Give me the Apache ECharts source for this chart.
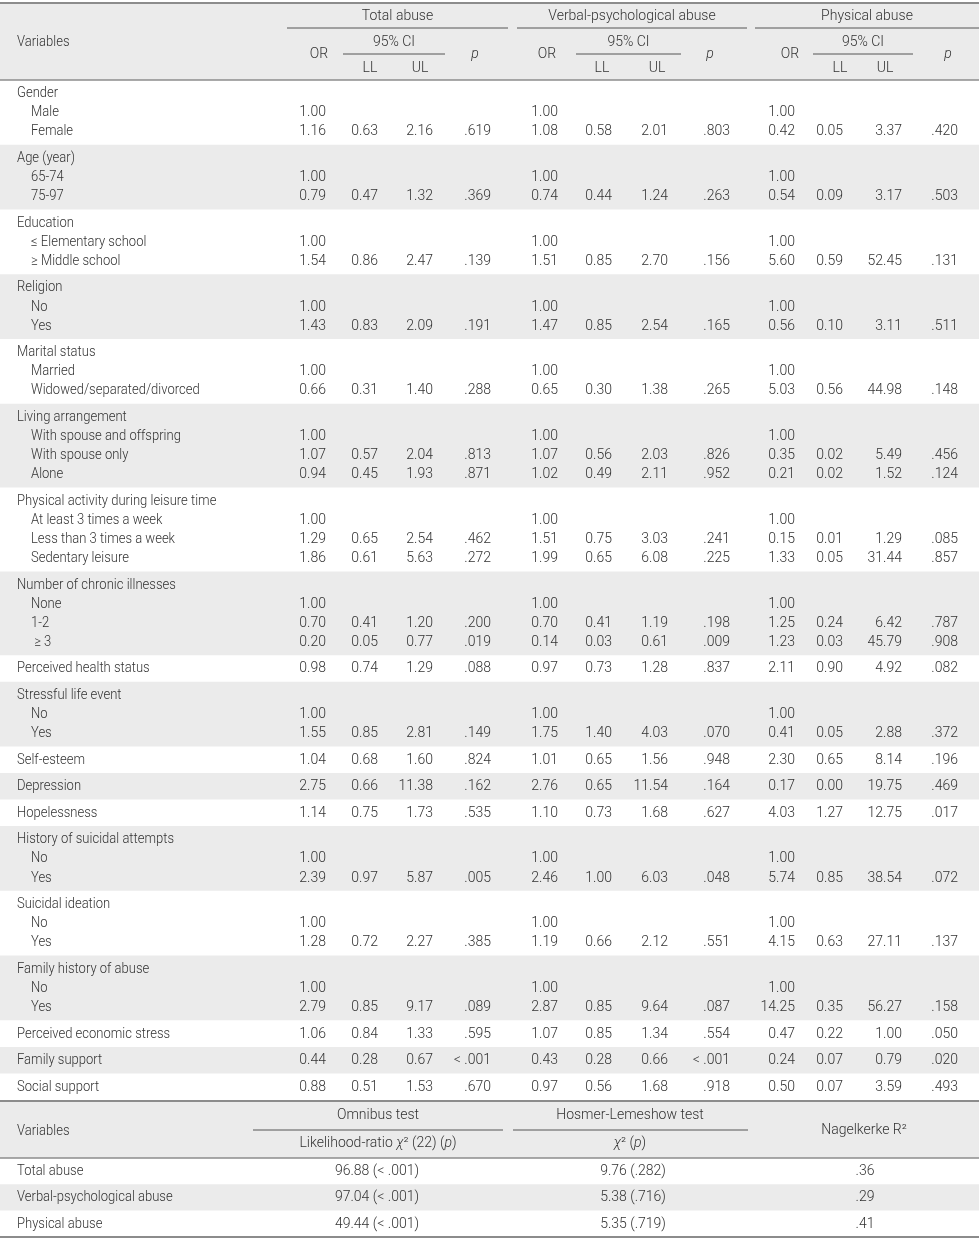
<!DOCTYPE html>
<html>
<head>
<meta charset="utf-8">
<script src="https://cdn.jsdelivr.net/npm/echarts@6/dist/echarts.min.js"></script>
<style>
html, body { margin: 0; padding: 0; background: #fff; }
#chart { width: 979px; height: 1239px; }
</style>
</head>
<body>
<div id="chart"></div>
<script>
// Row labels
var groupTitles = ['Gender', 'Age (year)', 'Education', 'Religion', 'Marital status', 'Living arrangement',
    'Physical activity during leisure time', 'Number of chronic illnesses', 'Perceived health status',
    'Stressful life event', 'Self-esteem', 'Depression', 'Hopelessness', 'History of suicidal attempts',
    'Suicidal ideation', 'Family history of abuse', 'Perceived economic stress', 'Family support', 'Social support'];
var groupItems = [['Male', 'Female'], ['65-74', '75-97'], ['\u2264 Elementary school', '\u2265 Middle school'],
    ['No', 'Yes'], ['Married', 'Widowed/separated/divorced'],
    ['With spouse and offspring', 'With spouse only', 'Alone'],
    ['At least 3 times a week', 'Less than 3 times a week', 'Sedentary leisure'],
    ['None', '1-2', ' \u2265 3'], [], ['No', 'Yes'], [], [], [], ['No', 'Yes'], ['No', 'Yes'], ['No', 'Yes'], [], [], []];

// Total abuse
var totalOR = [1.00, 1.16, 1.00, 0.79, 1.00, 1.54, 1.00, 1.43, 1.00, 0.66, 1.00, 1.07, 0.94, 1.00, 1.29, 1.86, 1.00, 0.70, 0.20, 0.98, 1.00, 1.55, 1.04, 2.75, 1.14, 1.00, 2.39, 1.00, 1.28, 1.00, 2.79, 1.06, 0.44, 0.88];
var totalLL = [null, 0.63, null, 0.47, null, 0.86, null, 0.83, null, 0.31, null, 0.57, 0.45, null, 0.65, 0.61, null, 0.41, 0.05, 0.74, null, 0.85, 0.68, 0.66, 0.75, null, 0.97, null, 0.72, null, 0.85, 0.84, 0.28, 0.51];
var totalUL = [null, 2.16, null, 1.32, null, 2.47, null, 2.09, null, 1.40, null, 2.04, 1.93, null, 2.54, 5.63, null, 1.20, 0.77, 1.29, null, 2.81, 1.60, 11.38, 1.73, null, 5.87, null, 2.27, null, 9.17, 1.33, 0.67, 1.53];
var totalP = [null, '.619', null, '.369', null, '.139', null, '.191', null, '.288', null, '.813', '.871', null, '.462', '.272', null, '.200', '.019', '.088', null, '.149', '.824', '.162', '.535', null, '.005', null, '.385', null, '.089', '.595', '< .001', '.670'];

// Verbal-psychological abuse
var verbalOR = [1.00, 1.08, 1.00, 0.74, 1.00, 1.51, 1.00, 1.47, 1.00, 0.65, 1.00, 1.07, 1.02, 1.00, 1.51, 1.99, 1.00, 0.70, 0.14, 0.97, 1.00, 1.75, 1.01, 2.76, 1.10, 1.00, 2.46, 1.00, 1.19, 1.00, 2.87, 1.07, 0.43, 0.97];
var verbalLL = [null, 0.58, null, 0.44, null, 0.85, null, 0.85, null, 0.30, null, 0.56, 0.49, null, 0.75, 0.65, null, 0.41, 0.03, 0.73, null, 1.40, 0.65, 0.65, 0.73, null, 1.00, null, 0.66, null, 0.85, 0.85, 0.28, 0.56];
var verbalUL = [null, 2.01, null, 1.24, null, 2.70, null, 2.54, null, 1.38, null, 2.03, 2.11, null, 3.03, 6.08, null, 1.19, 0.61, 1.28, null, 4.03, 1.56, 11.54, 1.68, null, 6.03, null, 2.12, null, 9.64, 1.34, 0.66, 1.68];
var verbalP = [null, '.803', null, '.263', null, '.156', null, '.165', null, '.265', null, '.826', '.952', null, '.241', '.225', null, '.198', '.009', '.837', null, '.070', '.948', '.164', '.627', null, '.048', null, '.551', null, '.087', '.554', '< .001', '.918'];

// Physical abuse
var physicalOR = [1.00, 0.42, 1.00, 0.54, 1.00, 5.60, 1.00, 0.56, 1.00, 5.03, 1.00, 0.35, 0.21, 1.00, 0.15, 1.33, 1.00, 1.25, 1.23, 2.11, 1.00, 0.41, 2.30, 0.17, 4.03, 1.00, 5.74, 1.00, 4.15, 1.00, 14.25, 0.47, 0.24, 0.50];
var physicalLL = [null, 0.05, null, 0.09, null, 0.59, null, 0.10, null, 0.56, null, 0.02, 0.02, null, 0.01, 0.05, null, 0.24, 0.03, 0.90, null, 0.05, 0.65, 0.00, 1.27, null, 0.85, null, 0.63, null, 0.35, 0.22, 0.07, 0.07];
var physicalUL = [null, 3.37, null, 3.17, null, 52.45, null, 3.11, null, 44.98, null, 5.49, 1.52, null, 1.29, 31.44, null, 6.42, 45.79, 4.92, null, 2.88, 8.14, 19.75, 12.75, null, 38.54, null, 27.11, null, 56.27, 1.00, 0.79, 3.59];
var physicalP = [null, '.420', null, '.503', null, '.131', null, '.511', null, '.148', null, '.456', '.124', null, '.085', '.857', null, '.787', '.908', '.082', null, '.372', '.196', '.469', '.017', null, '.072', null, '.137', null, '.158', '.050', '.020', '.493'];

// Model fit
var fitModels = ['Total abuse', 'Verbal-psychological abuse', 'Physical abuse'];
var omnibusChi = [96.88, 97.04, 49.44];
var omnibusP = ['< .001', '< .001', '< .001'];
var hlChi = [9.76, 5.38, 5.35];
var hlP = ['.282', '.716', '.719'];
var nagelkerke = ['.36', '.29', '.41'];

// Layout and style
var W = 979, H = 1239;
var FONT = 'Roboto, "Liberation Sans", Arial, sans-serif';
var WEIGHT = 300;
var INK = '#333';
var SHADE = '#ebebeb';
var RULE = '#8c8c8c';
var DARK_RULE = '#555';
var LINE = 19.1, PAD = 7.44, BODY_TOP = 80;
var LABEL = { size: 14, squeeze: 0.93 };   // row labels are set in a narrower face

var valueCols = [
    { values: totalOR, right: 326 }, { values: totalLL, right: 378 }, { values: totalUL, right: 433 }, { values: totalP, right: 491 },
    { values: verbalOR, right: 558 }, { values: verbalLL, right: 612 }, { values: verbalUL, right: 668 }, { values: verbalP, right: 730 },
    { values: physicalOR, right: 795 }, { values: physicalLL, right: 843 }, { values: physicalUL, right: 902 }, { values: physicalP, right: 958 }
];

var texts = [];
var bands = [];
var rules = [];

function addText(x, y, text, align, opts) {
    texts.push(Object.assign({ x: x, y: y, text: text, align: align || 'center', size: 14, squeeze: 1 }, opts || {}));
}

function fmt(v) {
    return typeof v === 'number' ? v.toFixed(2) : v;
}

// header of main table
bands.push([3, 80]);
rules.push([0, W, 3, 2, RULE]);
rules.push([0, W, 80, 1.5, RULE]);
addText(17, 42, 'Variables', 'left', LABEL);
[
    { title: 'Total abuse', x0: 287, x1: 508, ci0: 343, ci1: 445, or: 319, ll: 370, ul: 420, p: 475 },
    { title: 'Verbal-psychological abuse', x0: 517, x1: 747, ci0: 576, ci1: 681, or: 547, ll: 602, ul: 657, p: 710 },
    { title: 'Physical abuse', x0: 755, x1: W, ci0: 813, ci1: 913, or: 790, ll: 840, ul: 885, p: 948 }
].forEach(function (h) {
    addText((h.x0 + h.x1) / 2, 16, h.title);
    rules.push([h.x0, h.x1, 28, 1, DARK_RULE]);
    addText((h.ci0 + h.ci1) / 2, 42, '95% CI');
    rules.push([h.ci0, h.ci1, 54, 1, DARK_RULE]);
    addText(h.or, 54, 'OR');
    addText(h.p, 54, 'p', 'center', { italic: true });
    addText(h.ll, 68, 'LL');
    addText(h.ul, 68, 'UL');
});

// body of main table
var cur = BODY_TOP, row = 0;
groupTitles.forEach(function (title, g) {
    var items = groupItems[g];
    var n = items.length ? items.length + 1 : 1;
    var h = LINE * n + PAD;
    var top = cur;
    if (g % 2 === 1) bands.push([top, top + h]);
    function lineY(i) { return top + PAD / 2 + LINE / 2 + LINE * i + 0.5; }
    addText(17, lineY(0), title, 'left', LABEL);
    items.forEach(function (it, i) { addText(31, lineY(i + 1), it, 'left', LABEL); });
    var dataLines = items.length ? items.map(function (_, i) { return i + 1; }) : [0];
    dataLines.forEach(function (li) {
        valueCols.forEach(function (col) {
            var v = col.values[row];
            if (v != null) addText(col.right, lineY(li), fmt(v), 'right');
        });
        row++;
    });
    cur += h;
});

// model fit table
var fitTop = 1101, fitHead = 1158, fitRowH = 26.3;
bands.push([fitTop, fitHead]);
rules.push([0, W, fitTop, 2, RULE]);
rules.push([0, W, fitHead, 1.5, RULE]);
rules.push([253, 503, 1130, 1, DARK_RULE]);
rules.push([513, 748, 1130, 1, DARK_RULE]);
addText(17, 1131, 'Variables', 'left', LABEL);
addText(378, 1115, 'Omnibus test');
addText(630, 1115, 'Hosmer-Lemeshow test');
addText(864, 1130, 'Nagelkerke R\u00b2');
addText(378, 1143, 'Likelihood-ratio {i|\u03c7}\u00b2 (22) ({i|p})', 'center', { rich: true });
addText(630, 1143, '{i|\u03c7}\u00b2 ({i|p})', 'center', { rich: true });
fitModels.forEach(function (m, i) {
    var y = fitHead + fitRowH * (i + 0.5) + 0.5;
    if (i % 2 === 1) bands.push([fitHead + fitRowH * i, fitHead + fitRowH * (i + 1)]);
    addText(17, y, m, 'left', LABEL);
    addText(377, y, omnibusChi[i].toFixed(2) + ' (' + omnibusP[i] + ')');
    addText(633, y, hlChi[i].toFixed(2) + ' (' + hlP[i] + ')');
    addText(865, y, nagelkerke[i]);
});
rules.push([0, W, fitHead + fitRowH * 3, 2, RULE]);

var chart = echarts.init(document.getElementById('chart'));
chart.setOption({
    animation: false,
    backgroundColor: '#fff',
    grid: { left: 0, right: 0, top: 0, bottom: 0 },
    xAxis: { type: 'value', min: 0, max: W, show: false },
    yAxis: { type: 'value', min: 0, max: H, inverse: true, show: false },
    series: [
        {
            type: 'custom',
            z: 1,
            clip: false,
            data: bands,
            renderItem: function (params, api) {
                var a = api.coord([0, api.value(0)]);
                var b = api.coord([W, api.value(1)]);
                return {
                    type: 'rect',
                    shape: { x: a[0], y: a[1], width: b[0] - a[0], height: b[1] - a[1] },
                    style: { fill: SHADE }
                };
            }
        },
        {
            type: 'custom',
            z: 2,
            clip: false,
            data: rules.map(function (r) { return [r[0], r[1], r[2], r[3]]; }),
            renderItem: function (params, api) {
                var r = rules[params.dataIndex];
                var a = api.coord([api.value(0), api.value(2)]);
                var b = api.coord([api.value(1), api.value(2)]);
                return {
                    type: 'line',
                    shape: { x1: a[0], y1: a[1], x2: b[0], y2: b[1] },
                    style: { stroke: r[4], lineWidth: api.value(3) }
                };
            }
        },
        {
            type: 'custom',
            z: 3,
            clip: false,
            data: texts.map(function (t) { return [t.x, t.y]; }),
            renderItem: function (params, api) {
                var t = texts[params.dataIndex];
                var p = api.coord([api.value(0), api.value(1)]);
                var style = {
                    text: t.text,
                    fill: INK,
                    fontSize: t.size,
                    fontWeight: WEIGHT,
                    fontFamily: FONT,
                    fontStyle: t.italic ? 'italic' : 'normal',
                    align: t.align,
                    verticalAlign: 'middle',
                    textAlign: t.align,
                    textVerticalAlign: 'middle'
                };
                if (t.rich) {
                    style.rich = { i: { font: 'italic ' + WEIGHT + ' ' + t.size + 'px ' + FONT, fill: INK } };
                }
                return { type: 'text', x: p[0], y: p[1], scaleX: t.squeeze, style: style };
            }
        }
    ]
});
</script>
</body>
</html>
